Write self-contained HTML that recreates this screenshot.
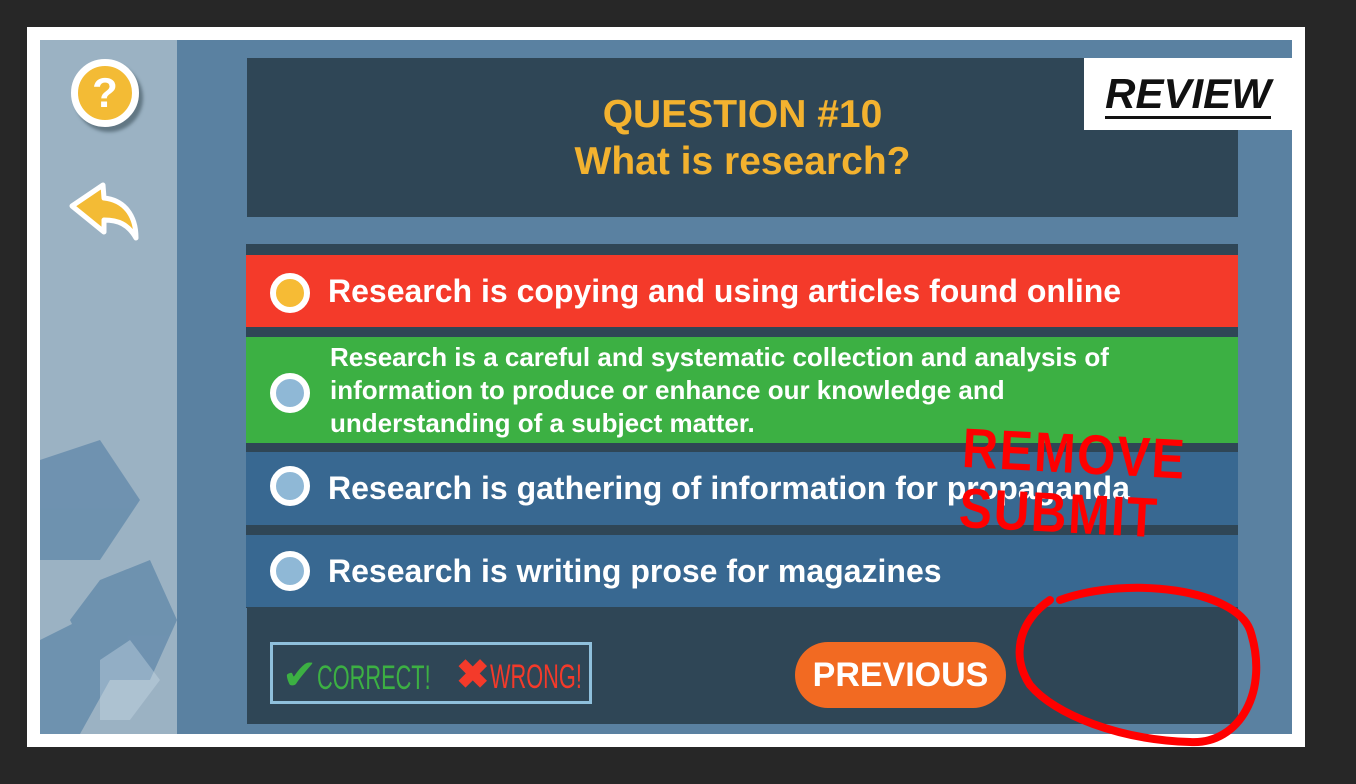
<!DOCTYPE html>
<html><head><meta charset="utf-8"><style>
*{margin:0;padding:0;box-sizing:border-box}
body{width:1356px;height:784px;background:#272727;position:relative;overflow:hidden;font-family:"Liberation Sans",sans-serif}
.abs{position:absolute}
.row{position:absolute;left:246px;width:992px;color:#fff;font-size:32px;font-weight:bold;display:flex;align-items:center;white-space:nowrap}
.radio{position:absolute;left:270px;width:40px;height:40px;border-radius:50%;border:6px solid #fff;background:#8fb8d6}
.nar{display:inline-block;transform:scaleX(.64);transform-origin:left}
</style></head><body>
<div class="abs" style="left:27px;top:27px;width:1278px;height:720px;background:#fff"></div>
<div class="abs" style="left:40px;top:40px;width:137px;height:694px;background:#9bb2c3"></div>
<div class="abs" style="left:177px;top:40px;width:1115px;height:694px;background:#5a81a1"></div>
<svg class="abs" style="left:40px;top:40px" width="137" height="694">
<g fill="#4a78a0" opacity="0.55"><polygon points="0,420 60,400 100,460 60,520 0,520"/><polygon points="60,540 110,520 137,580 110,640 60,640 30,580"/><polygon points="0,600 40,580 70,640 40,694 0,694"/></g>
<g fill="#c7d9e6" opacity="0.4"><polygon points="60,620 90,600 120,640 90,680 60,680"/></g>
</svg>
<div class="abs" style="left:71px;top:59px;width:68px;height:68px;border-radius:50%;background:#f3bb35;border:7px solid #fff;box-shadow:4px 5px 3px rgba(60,80,90,.6);color:#fff;font-weight:bold;font-size:42px;text-align:center;line-height:54px">?</div>
<svg class="abs" style="left:66px;top:180px" width="80" height="65"><path d="M6,26 L37,5 L38,18 C58,20 70,35 70,58 C62,44 52,40 38,40 L38,52 Z" fill="#f3bb35" stroke="#fff" stroke-width="5" stroke-linejoin="round"/></svg>
<div class="abs" style="left:247px;top:58px;width:991px;height:159px;background:#2f4656;color:#f3b22f;font-weight:bold;font-size:39px;text-align:center;padding-top:33px;line-height:47px">QUESTION #10<br>What is research?</div>
<div class="abs" style="left:1084px;top:58px;width:208px;height:72px;background:#fff;color:#111;font-weight:bold;font-style:italic;font-size:42px;text-align:center;line-height:72px"><span style="border-bottom:3px solid #111;line-height:44px;display:inline-block">REVIEW</span></div>
<div class="abs" style="left:246px;top:244px;width:992px;height:364px;background:#2f4656"></div>
<div class="row" style="top:255px;height:72px;background:#f43a2a;padding-left:82px">Research is copying and using articles found online</div>
<div class="radio" style="top:273px;background:#f6bb35"></div>
<div class="row" style="top:337px;height:106px;background:#3cb043;padding-left:84px;font-size:26px;line-height:33px">Research is a careful and systematic collection and analysis of<br>information to produce or enhance our knowledge and<br>understanding of a subject matter.</div>
<div class="radio" style="top:373px"></div>
<div class="row" style="top:452px;height:73px;background:#386891;padding-left:82px">Research is gathering of information for propaganda</div>
<div class="radio" style="top:466px"></div>
<div class="row" style="top:535px;height:72px;background:#386891;padding-left:82px">Research is writing prose for magazines</div>
<div class="radio" style="top:551px"></div>
<div class="abs" style="left:247px;top:608px;width:991px;height:116px;background:#2f4656"></div>
<div class="abs" style="left:270px;top:642px;width:322px;height:62px;border:3px solid #8fc0dc"></div>
<div class="abs" style="left:282px;top:647px;height:56px;line-height:56px;font-size:34px;color:#3cb043;white-space:nowrap"><span style="font-size:42px">✔</span><span class="nar">CORRECT!</span></div>
<div class="abs" style="left:456px;top:647px;height:56px;line-height:56px;font-size:34px;color:#f43a2a;white-space:nowrap"><span style="font-size:40px;font-weight:bold">✖</span><span class="nar">WRONG!</span></div>
<div class="abs" style="left:795px;top:642px;width:211px;height:66px;border-radius:33px;background:#f26a22;color:#fff;font-weight:bold;font-size:34px;text-align:center;line-height:66px">PREVIOUS</div>
<div class="abs" style="left:964px;top:418px;color:#ff0000;font-size:56px;font-weight:bold;line-height:60px;transform:rotate(3deg) scaleX(.88);transform-origin:left top;letter-spacing:2px">REMOVE<br>SUBMIT</div>
<svg class="abs" style="left:0;top:0" width="1356" height="784"><path d="M1060,600 C1130,575 1235,590 1250,630 C1270,690 1240,745 1190,742 C1120,740 1055,715 1030,685 C1010,655 1020,620 1050,600" fill="none" stroke="#ff0000" stroke-width="8" stroke-linecap="round"/></svg>
</body></html>
